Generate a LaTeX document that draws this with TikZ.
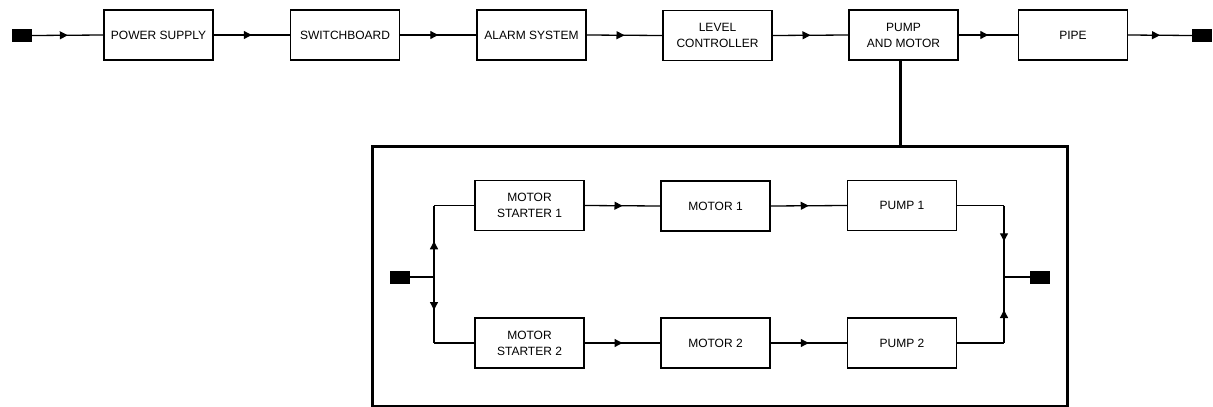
\documentclass[tikz,border=0pt]{standalone}
\usepackage{fontspec}
\setmainfont{Liberation Sans}
\usetikzlibrary{arrows.meta,decorations.markings}
\tikzset{
  blk/.style={draw, line width=1.3pt, minimum width=109pt, minimum height=50pt, align=center, inner sep=2pt,
    font=\fontsize{12}{16}\selectfont},
  term/.style={fill=black, draw=none, minimum width=20pt, minimum height=13pt, inner sep=0pt},
  conn/.style={line width=1.3pt},
  marr/.style={conn, postaction={decorate}, decoration={markings, mark=at position 0.5 with {\arrow{Triangle[length=8pt,width=8pt]}}}},
  thickln/.style={line width=3pt},
}
\begin{document}
\begin{tikzpicture}[x=1pt,y=-1pt]
\useasboundingbox (0,0) rectangle (1213,407);
% top row
\node[term] (tl) at (22,35.5) {};
\node[blk] (ps) at (158.5,35) {POWER SUPPLY};
\node[blk] (sw) at (345,35) {SWITCHBOARD};
\node[blk] (al) at (531.5,35) {ALARM SYSTEM};
\node[blk] (lc) at (717.5,35.5) {LEVEL\\CONTROLLER};
\node[blk] (pm) at (903.5,35) {PUMP\\AND MOTOR};
\node[blk] (pi) at (1073,35) {PIPE};
\node[term] (tr) at (1202,35.5) {};
\draw[marr] (tl.east) -- (ps.west);
\draw[marr] (ps.east) -- (sw.west);
\draw[marr] (sw.east) -- (al.west);
\draw[marr] (al.east) -- (lc.west);
\draw[marr] (lc.east) -- (pm.west);
\draw[marr] (pm.east) -- (pi.west);
\draw[marr] (pi.east) -- (tr.west);
% big box
\node[draw, line width=3pt, minimum width=695pt, minimum height=260pt, inner sep=0pt] (big) at (719.5,276) {};
\coordinate (vx) at (900,0);
\draw[thickln] (vx |- pm.south) -- (vx |- big.north);
% inner
\node[term] (il) at (399.5,277) {};
\node[term] (ir) at (1040,277) {};
\node[blk] (ms1) at (529.5,205.5) {MOTOR\\STARTER 1};
\node[blk] (m1) at (715.5,206) {MOTOR 1};
\node[blk] (p1) at (902,205.5) {PUMP 1};
\node[blk] (ms2) at (529.5,343) {MOTOR\\STARTER 2};
\node[blk] (m2) at (715.5,343) {MOTOR 2};
\node[blk] (p2) at (902,343) {PUMP 2};
\coordinate (jl) at (434,277);
\coordinate (jr) at (1004,277);
\draw[conn] (il.east) -- (jl);
\draw[marr] (jl) -- (jl |- ms1.west);
\draw[conn] (jl |- ms1.west) -- (ms1.west);
\draw[marr] (jl) -- (jl |- ms2.west);
\draw[conn] (jl |- ms2.west) -- (ms2.west);
\draw[marr] (ms1.east) -- (m1.west);
\draw[marr] (m1.east) -- (p1.west);
\draw[marr] (ms2.east) -- (m2.west);
\draw[marr] (m2.east) -- (p2.west);
\draw[conn] (p1.east) -- (jr |- p1.east);
\draw[marr] (jr |- p1.east) -- (jr);
\draw[conn] (p2.east) -- (jr |- p2.east);
\draw[marr] (jr |- p2.east) -- (jr);
\draw[conn] (jr) -- (ir.west);
\end{tikzpicture}
\end{document}
